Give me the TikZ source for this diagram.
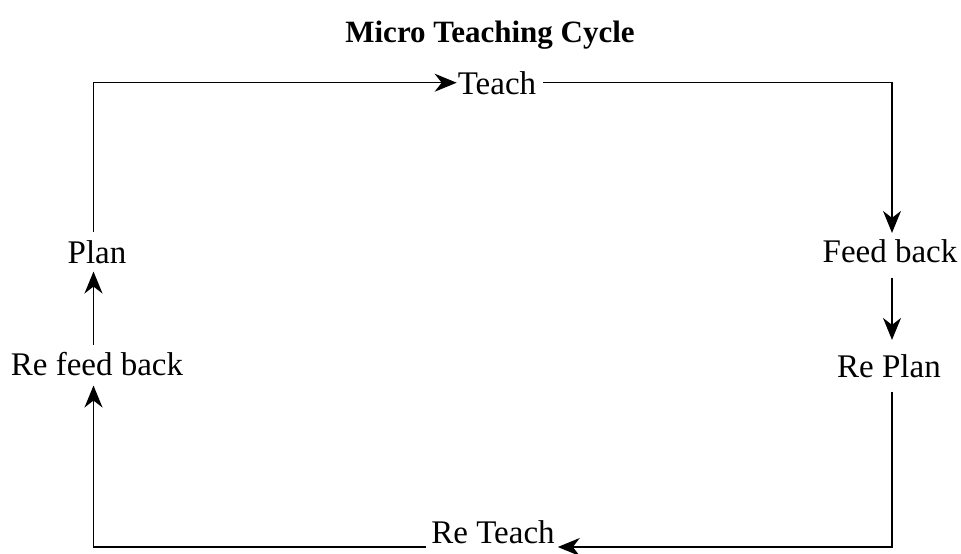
\documentclass[tikz,border=0pt]{standalone}
\usepackage{fontspec}
\setmainfont{Liberation Serif}
\usetikzlibrary{arrows.meta,calc}
\begin{document}
\begin{tikzpicture}[x=1pt,y=-1pt,
  lbl/.style={font=\fontsize{33}{40}\selectfont, inner sep=0pt, anchor=base},
  ttl/.style={font=\fontsize{31}{38}\selectfont\bfseries, inner sep=0pt, anchor=base},
  arr/.style={line width=1.3pt, -{Stealth[length=22pt,width=18pt,inset=7pt]}}]
\useasboundingbox (0,0) rectangle (961,554);
\node[ttl] (title) at (490,42) {Micro Teaching Cycle};
\node[lbl] (teach) at (497,94) {Teach};
\node[lbl] (plan) at (97,263) {Plan};
\node[lbl] (feed) at (890,262) {Feed back};
\node[lbl] (replan) at (889,377) {Re Plan};
\node[lbl] (refeed) at (97,375) {Re feed back};
\node[lbl] (reteach) at (493,543) {Re Teach};
\coordinate (rtin) at ($(reteach.base east)+(3pt,-4pt)$);
\coordinate (rtout) at ($(reteach.base west)+(-5pt,-4pt)$);
\draw[arr, shorten <=8pt, shorten >=1pt] ([xshift=-3.5pt]plan.north) |- (teach.west);
\draw[arr, shorten <=7pt, shorten >=6pt] (teach.east) -| ([xshift=2pt]feed.north);
\draw[arr, shorten <=15pt, shorten >=14pt] ([xshift=2pt]feed.south) -- ([xshift=3pt]replan.north);
\draw[arr, shorten <=14pt] ([xshift=3pt]replan.south) |- (rtin);
\draw[arr, shorten >=10pt] (rtout) -| ([xshift=-3.5pt]refeed.south);
\draw[arr, shorten <=7pt, shorten >=8pt] ([xshift=-3.5pt]refeed.north) -- ([xshift=-3.5pt]plan.south);
\end{tikzpicture}
\end{document}
